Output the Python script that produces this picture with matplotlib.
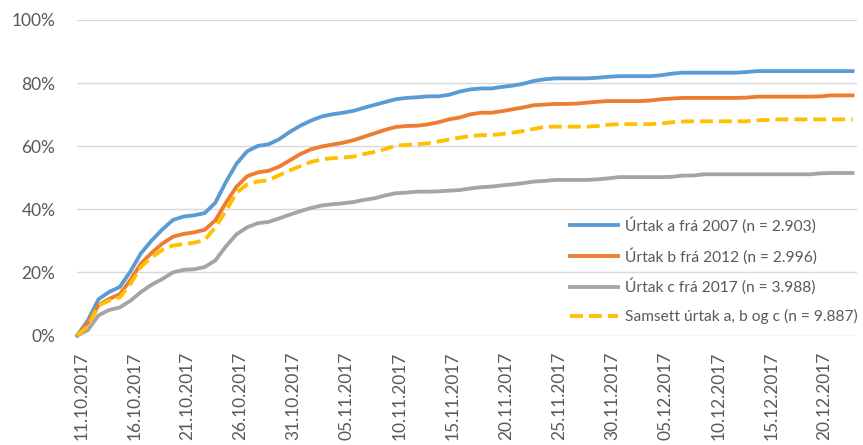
"""
Cumulative response rate per sample (a, b, c and combined), 11.10.2017 - 23.12.2017.
"""
import numpy as np
import pandas as pd
import matplotlib
matplotlib.use("Agg")
import matplotlib.pyplot as plt
from matplotlib.ticker import FuncFormatter
from matplotlib.transforms import ScaledTranslation


# ── Data (cumulative share in %, one value per day) ──────────────────────────

START_DATE = "2017-10-11"

urtak_a = [
    0.0, 4.8, 11.5, 13.8, 15.4, 20.3, 26.1, 30.1, 33.6, 36.6,
    37.7, 38.1, 38.8, 42.1, 48.7, 54.5, 58.4, 60.1, 60.6, 62.2,
    64.5, 66.5, 68.1, 69.4, 70.1, 70.6, 71.2, 72.2, 73.1, 74.0,
    74.9, 75.3, 75.5, 75.8, 75.8, 76.3, 77.3, 78.0, 78.3, 78.3,
    78.8, 79.2, 79.8, 80.7, 81.2, 81.5, 81.5, 81.5, 81.5, 81.7,
    82.0, 82.2, 82.2, 82.2, 82.2, 82.5, 83.0, 83.3, 83.3, 83.3,
    83.3, 83.3, 83.3, 83.5, 83.8, 83.8, 83.8, 83.8, 83.8, 83.8,
    83.8, 83.8, 83.8, 83.8,
]

urtak_b = [
    0.0, 4.0, 9.6, 11.6, 13.1, 17.6, 22.8, 26.2, 29.1, 31.3,
    32.2, 32.7, 33.5, 36.5, 42.1, 47.2, 50.5, 51.7, 52.2, 53.5,
    55.5, 57.5, 59.0, 59.9, 60.5, 61.1, 61.9, 63.0, 64.1, 65.2,
    66.1, 66.4, 66.5, 66.9, 67.6, 68.5, 69.1, 70.1, 70.6, 70.6,
    71.1, 71.7, 72.3, 73.0, 73.2, 73.4, 73.4, 73.5, 73.8, 74.1,
    74.3, 74.3, 74.3, 74.3, 74.5, 74.9, 75.1, 75.3, 75.3, 75.3,
    75.3, 75.3, 75.3, 75.4, 75.7, 75.7, 75.7, 75.7, 75.7, 75.7,
    75.8, 76.1, 76.1, 76.1,
]

urtak_c = [
    0.0, 1.7, 6.4, 8.1, 8.9, 11.0, 13.8, 16.1, 17.9, 20.0,
    20.8, 21.0, 21.7, 23.8, 28.3, 32.1, 34.3, 35.6, 36.0, 37.1,
    38.3, 39.4, 40.4, 41.2, 41.6, 41.9, 42.3, 43.0, 43.5, 44.4,
    45.1, 45.3, 45.6, 45.6, 45.7, 45.9, 46.1, 46.6, 47.0, 47.2,
    47.6, 47.9, 48.3, 48.8, 49.0, 49.3, 49.3, 49.3, 49.3, 49.5,
    49.8, 50.2, 50.2, 50.2, 50.2, 50.2, 50.3, 50.7, 50.7, 51.1,
    51.1, 51.1, 51.1, 51.1, 51.1, 51.1, 51.1, 51.1, 51.1, 51.1,
    51.4, 51.5, 51.5, 51.5,
]

samsett = [
    0.0, 3.0, 9.5, 11.1, 12.1, 16.3, 21.8, 24.8, 27.1, 28.5,
    29.0, 29.4, 30.3, 34.3, 39.5, 45.3, 47.9, 48.8, 49.2, 50.8,
    52.3, 53.7, 55.0, 55.8, 56.2, 56.4, 56.7, 57.5, 58.2, 59.1,
    60.2, 60.4, 60.6, 60.9, 61.5, 62.1, 62.7, 63.2, 63.5, 63.5,
    63.9, 64.3, 64.8, 65.5, 66.1, 66.2, 66.2, 66.2, 66.2, 66.4,
    66.8, 67.0, 67.0, 67.0, 67.0, 67.2, 67.6, 67.8, 67.9, 67.9,
    67.9, 67.9, 67.9, 67.9, 68.2, 68.3, 68.5, 68.5, 68.5, 68.5,
    68.5, 68.5, 68.5, 68.5,
]

series_labels = [
    "Úrtak a frá 2007 (n = 2.903)",
    "Úrtak b frá 2012 (n = 2.996)",
    "Úrtak c frá 2017 (n = 3.988)",
    "Samsett úrtak a, b og c (n = 9.887)",
]

y_ticks = [0, 20, 40, 60, 80, 100]
label_every = 5


# ── Plot ──────────────────────────────────────────────────────────────────────

TEXT_GREY = "#595959"
GRID_GREY = "#D9D9D9"
LW = 2.75

plt.rcParams["font.family"] = ["Lato", "DejaVu Sans"]

dates = pd.date_range(START_DATE, periods=len(urtak_a), freq="D")
x = np.arange(len(dates))

W, H = 863, 445
fig = plt.figure(figsize=(W / 100, H / 100), dpi=100)
ax = fig.add_axes([77.3 / W, 1 - 335.5 / H, (857 - 77.3) / W, (335.5 - 20) / H])

styles = [
    dict(color="#5B9BD5"),
    dict(color="#ED7D31"),
    dict(color="#A5A5A5"),
    dict(color="#FFC000", linestyle=(0, (3.4, 1.55)), dash_capstyle="butt"),
]
for vals, lab, st in zip([urtak_a, urtak_b, urtak_c, samsett], series_labels, styles):
    ax.plot(x, vals, lw=LW, solid_joinstyle="round", clip_on=False, label=lab, **st)

ax.set_xlim(0, (857 - 77.3) / 10.62)
ax.set_ylim(0, 100)
ax.set_yticks(y_ticks)
ax.yaxis.set_major_formatter(FuncFormatter(lambda v, _: f"{v:.0f}%"))
ax.grid(axis="y", color=GRID_GREY, lw=1.0)
ax.set_axisbelow(True)
for sp in ax.spines.values():
    sp.set_visible(False)

tick_pos = x[::label_every]
ax.set_xticks(tick_pos)
ax.set_xticklabels([d.strftime("%d.%m.%Y") for d in dates[::label_every]], rotation=90)
ax.tick_params(axis="x", length=0, pad=11.7, labelsize=12.5, labelcolor=TEXT_GREY)
ax.tick_params(axis="y", length=0, pad=15.8, labelsize=12.5, labelcolor=TEXT_GREY)

# Excel puts the rotated labels a few pixels right of the category
shift = ScaledTranslation(4 / 100, 0, fig.dpi_scale_trans)
for lab in ax.get_xticklabels():
    lab.set_transform(lab.get_transform() + shift)

fs = 11.2
leg = ax.legend(
    loc="center left", bbox_to_anchor=(570 / W, 1 - 270.5 / H),
    bbox_transform=fig.transFigure, frameon=False, fontsize=fs,
    handlelength=48 / (fs * 100 / 72), handletextpad=0.45,
    labelspacing=0.9, borderpad=0, borderaxespad=0,
)
for t in leg.get_texts():
    t.set_color(TEXT_GREY)

fig.savefig("out.png", dpi=100)
